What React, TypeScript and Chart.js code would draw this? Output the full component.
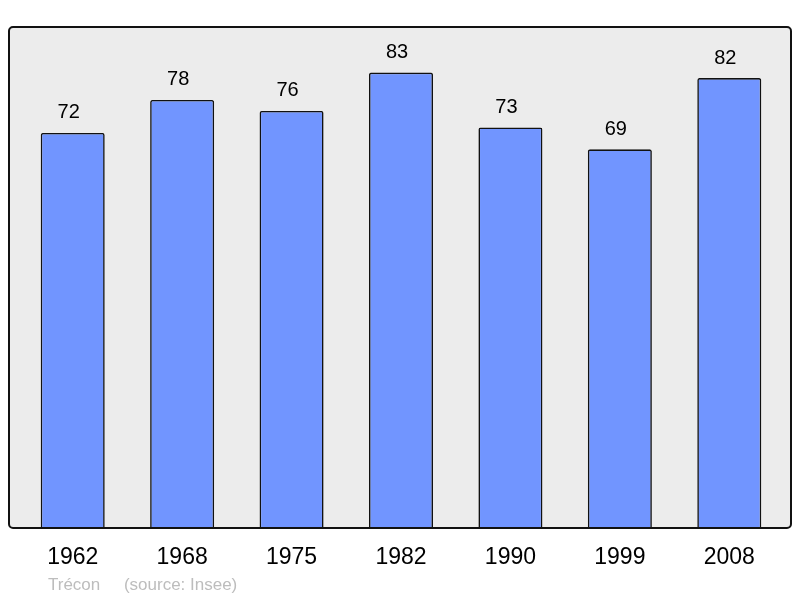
import { useEffect, useRef } from "react";
import { Chart, registerables } from "chart.js";
import type { ChartConfiguration, Plugin } from "chart.js";

Chart.register(...registerables);

const years = ["1962", "1968", "1975", "1982", "1990", "1999", "2008"];
const population = [72, 78, 76, 83, 73, 69, 82];
const yMax = 91.3;

const FONT = "'Liberation Sans', Arial, sans-serif";

// grey rounded frame behind the bars, outline drawn on top
const framePlugin: Plugin<"bar"> = {
  id: "frame",
  beforeDatasetsDraw(chart) {
    const { ctx, chartArea: a } = chart;
    ctx.save();
    ctx.beginPath();
    ctx.roundRect(a.left - 9, a.top, a.right - a.left + 16, a.bottom - a.top, 4);
    ctx.fillStyle = "#ececec";
    ctx.fill();
    ctx.restore();
  },
  afterDatasetsDraw(chart) {
    const { ctx, chartArea: a } = chart;
    ctx.save();
    ctx.beginPath();
    ctx.roundRect(a.left - 9, a.top, a.right - a.left + 16, a.bottom - a.top, 4);
    ctx.lineWidth = 2;
    ctx.strokeStyle = "#111";
    ctx.stroke();
    ctx.restore();
  },
};

// numbers above the bars, sitting a bit left of centre like the original
const valueLabels: Plugin<"bar"> = {
  id: "valueLabels",
  afterDatasetsDraw(chart) {
    const { ctx } = chart;
    const meta = chart.getDatasetMeta(0);
    ctx.save();
    ctx.font = `20px ${FONT}`;
    ctx.fillStyle = "#000";
    ctx.textAlign = "center";
    ctx.textBaseline = "middle";
    meta.data.forEach((bar, i) => {
      ctx.fillText(String(population[i]), bar.x - 4, bar.y - 20);
    });
    ctx.restore();
  },
};

const PopulationChart = () => {
  const canvasRef = useRef<HTMLCanvasElement | null>(null);
  const chartRef = useRef<Chart<"bar", number[], string> | null>(null);

  useEffect(() => {
    if (!canvasRef.current) return;
    chartRef.current?.destroy();

    const config: ChartConfiguration<"bar", number[], string> = {
      type: "bar",
      data: {
        labels: years,
        datasets: [
          {
            data: population,
            backgroundColor: "#7195ff",
            borderColor: "#111",
            borderWidth: 1.6,
            borderRadius: 2,
            borderSkipped: "bottom",
            barPercentage: 0.585,
            categoryPercentage: 1,
          },
        ],
      },
      options: {
        responsive: false,
        animation: false,
        devicePixelRatio: 1,
        layout: { padding: { left: 18, right: 16, top: 27, bottom: 26 } },
        plugins: {
          legend: { display: false },
          tooltip: { enabled: false },
        },
        scales: {
          x: {
            grid: { display: false, drawTicks: false },
            border: { display: false },
            ticks: { color: "#000", font: { size: 23, family: FONT }, padding: 16 },
            afterFit: (scale) => {
              scale.height = 44;
            },
          },
          y: {
            display: false,
            min: 0,
            max: yMax,
          },
        },
      },
      plugins: [framePlugin, valueLabels],
    };

    chartRef.current = new Chart(canvasRef.current, config);
    return () => chartRef.current?.destroy();
  }, []);

  return (
    <div style={{ position: "relative", width: 800, height: 598 }}>
      <canvas ref={canvasRef} width={800} height={598} style={{ display: "block" }} />
      <div
        style={{
          position: "absolute",
          left: 48,
          top: 575,
          fontFamily: FONT,
          fontSize: 17,
          color: "#bdbdbd",
          whiteSpace: "pre",
        }}
      >
        {"Trécon     (source: Insee)"}
      </div>
    </div>
  );
};

export default function App() {
  useEffect(() => {
    document.body.style.margin = "0";
  }, []);
  return <PopulationChart />;
}
